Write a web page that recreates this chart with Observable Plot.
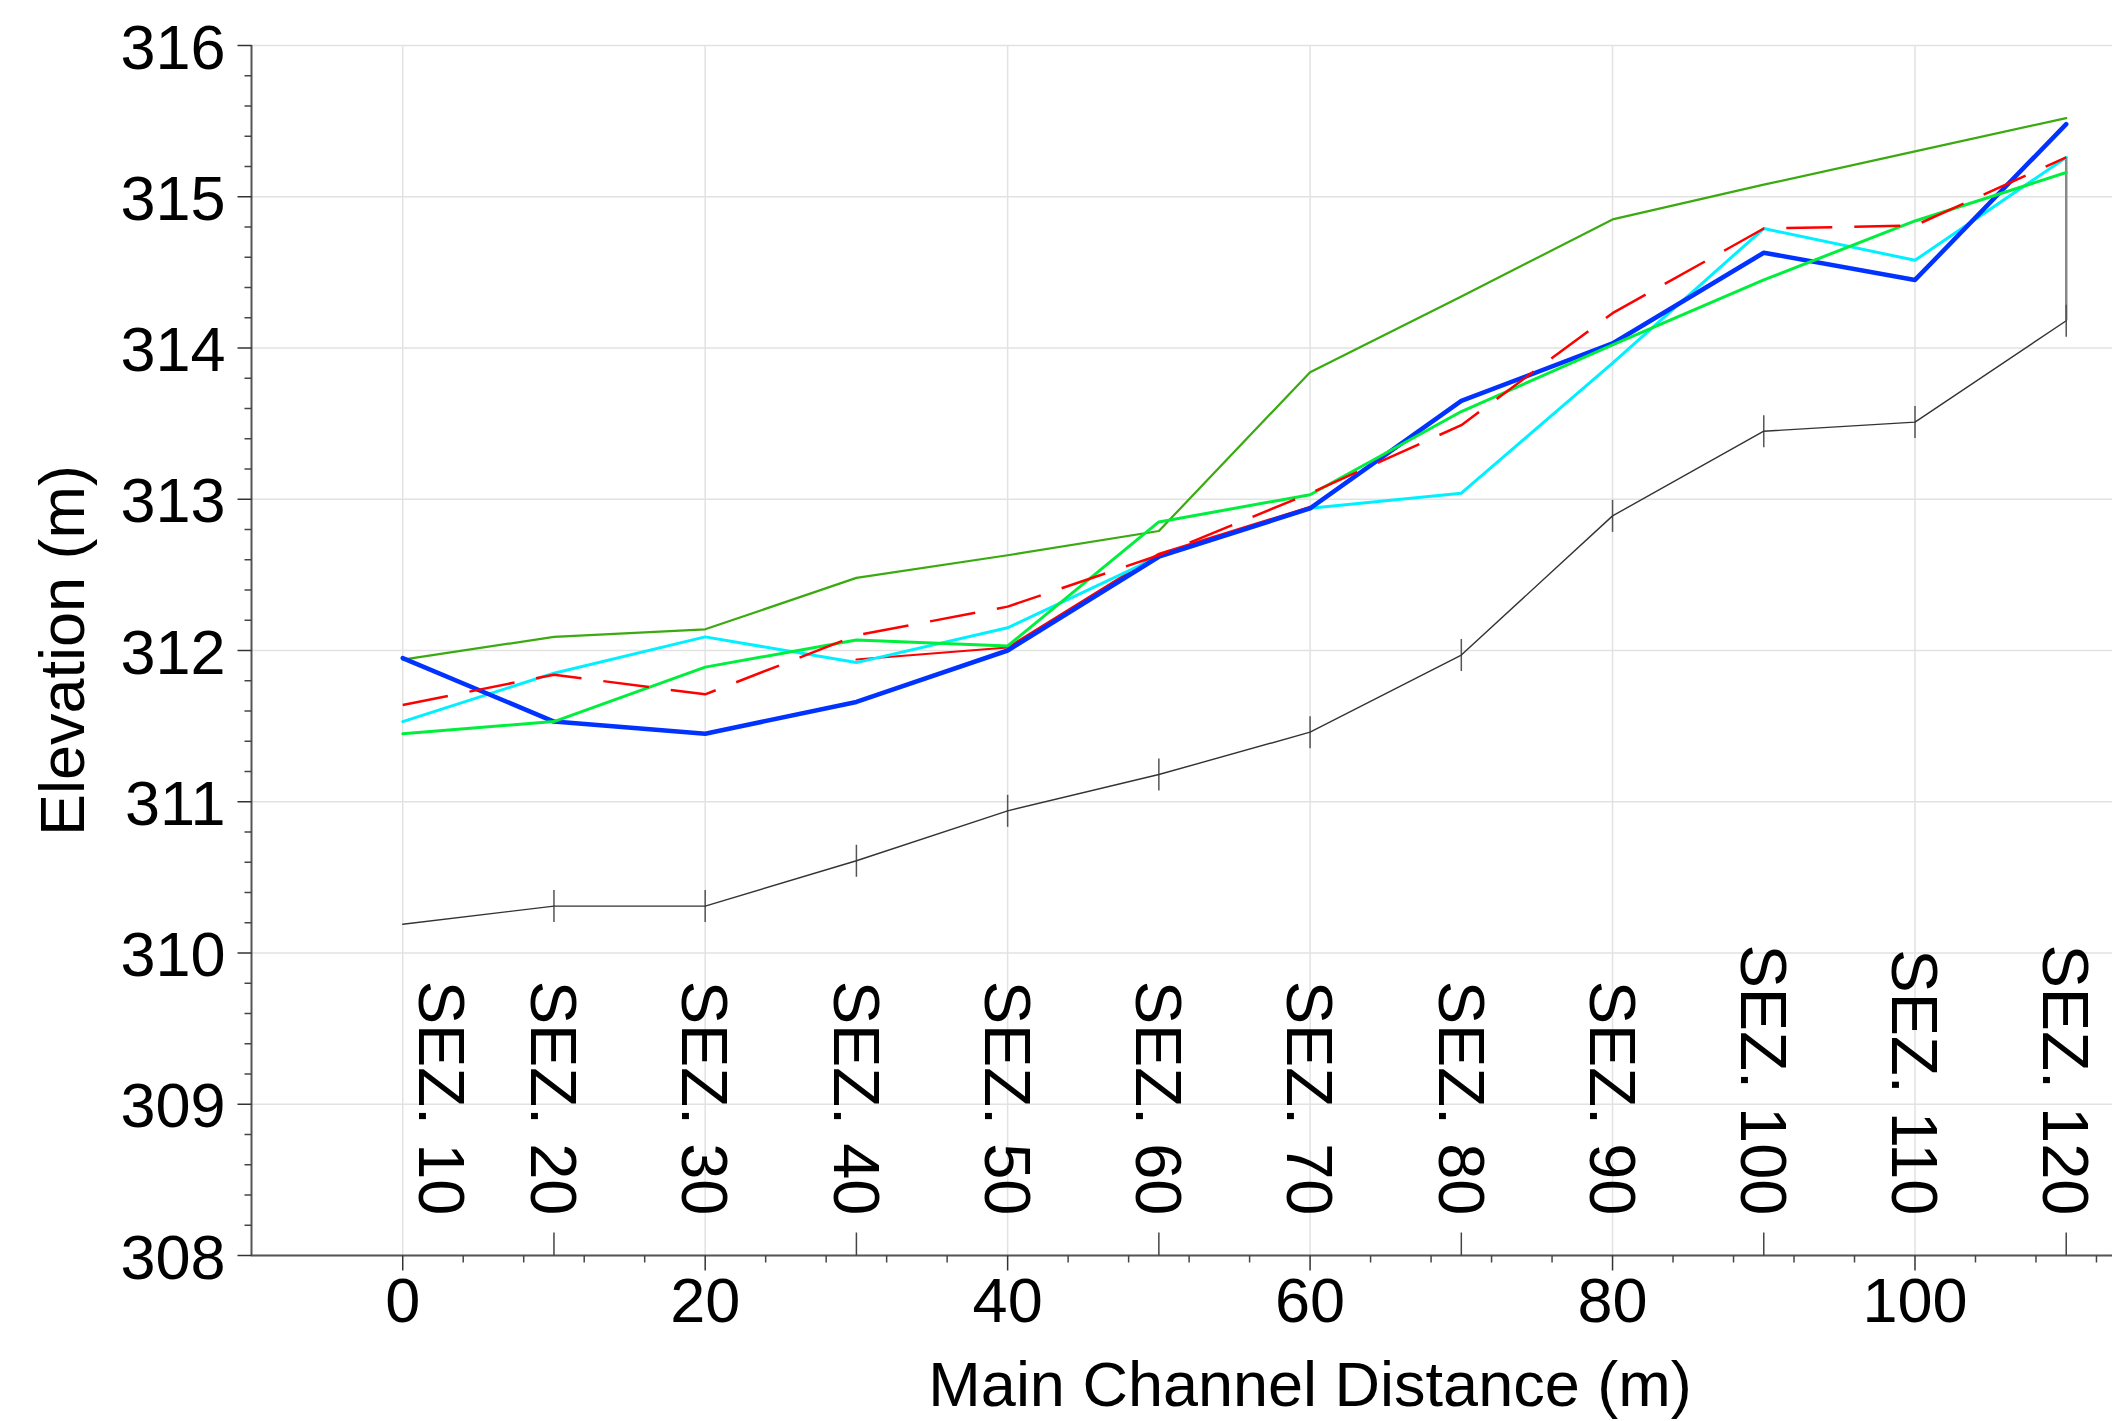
<!DOCTYPE html>
<html>
<head>
<meta charset="utf-8">
<script src="https://cdn.jsdelivr.net/npm/d3@7"></script>
<script src="https://cdn.jsdelivr.net/npm/@observablehq/plot@0.6"></script>
<style>
  html, body { margin: 0; padding: 0; background: #fff; }
  #chart { width: 2112px; height: 1421px; }
</style>
</head>
<body>
<div id="chart"></div>
<script>
// ---- data ----
const distance = [0, 10, 20, 30, 40, 50, 60, 70, 80, 90, 100, 110];
const sectionLabels = ["SEZ. 10", "SEZ. 20", "SEZ. 30", "SEZ. 40", "SEZ. 50", "SEZ. 60",
  "SEZ. 70", "SEZ. 80", "SEZ. 90", "SEZ. 100", "SEZ. 110", "SEZ. 120"];
const ground     = [310.19, 310.31, 310.31, 310.61, 310.94, 311.18, 311.46, 311.97, 312.89, 313.45, 313.51, 314.18];
const wsDarkGreen  = [311.94, 312.09, 312.14, 312.48, 312.63, 312.79, 313.84, 314.34, 314.85, 315.08, 315.30, 315.52];
const wsLightGreen = [311.45, 311.53, 311.89, 312.07, 312.03, 312.85, 313.03, 313.58, 314.02, 314.45, 314.84, 315.16];
const wsCyan       = [311.53, 311.85, 312.09, 311.92, 312.15, 312.62, 312.94, 313.04, 313.90, 314.79, 314.58, 315.26];
const wsRedDashed  = [311.64, 311.84, 311.71, 312.10, 312.29, 312.63, 313.04, 313.49, 314.23, 314.79, 314.81, 315.26];
const wsBlue       = [311.95, 311.53, 311.45, 311.66, 312.00, 312.62, 312.94, 313.65, 314.03, 314.63, 314.45, 315.48];
const critRed      = [null, null, null, 311.94, 312.02, 312.64, 312.95, null, null, null, null, null];
const lastSectionTop = 315.26;

const xDomain = [-10, 113.06];
const yDomain = [308, 316];
const xTicks = [0, 20, 40, 60, 80, 100];
const xMinorTicks = [4, 8, 12, 16, 24, 28, 32, 36, 44, 48, 52, 56, 64, 68, 72, 76, 84, 88, 92, 96, 104, 108, 112];
const sectionMarks = [10, 30, 50, 70, 90, 110];
const yTicks = [308, 309, 310, 311, 312, 313, 314, 315, 316];
const yMinorTicks = [308.2, 308.4, 308.6, 308.8, 309.2, 309.4, 309.6, 309.8, 310.2, 310.4, 310.6, 310.8,
  311.2, 311.4, 311.6, 311.8, 312.2, 312.4, 312.6, 312.8, 313.2, 313.4, 313.6, 313.8,
  314.2, 314.4, 314.6, 314.8, 315.2, 315.4, 315.6, 315.8];
const xLabel = "Main Channel Distance (m)";
const yLabel = "Elevation (m)";

// ---- table ----
const rows = distance.map((x, i) => ({
  x, label: sectionLabels[i], ground: ground[i],
  darkGreen: wsDarkGreen[i], lightGreen: wsLightGreen[i], cyan: wsCyan[i],
  red: wsRedDashed[i], blue: wsBlue[i], crit: critRed[i]
}));
const firstRow = rows.slice(0, 1);
const otherRows = rows.slice(1);
const lastRow = [rows[rows.length - 1]];

// ---- pixel-sized tick symbols ----
const groundTick = {draw(c) { c.moveTo(0, -16); c.lineTo(0, 16); }};
const upTick = {draw(c) { c.moveTo(0, 0); c.lineTo(0, -23); }};
const downMinor = {draw(c) { c.moveTo(0, 0); c.lineTo(0, 7); }};
const downMajor = {draw(c) { c.moveTo(0, 0); c.lineTo(0, 15); }};
const leftMinor = {draw(c) { c.moveTo(0, 0); c.lineTo(-7, 0); }};
const leftMajor = {draw(c) { c.moveTo(0, 0); c.lineTo(-14, 0); }};

const labelStyle = {x: "x", text: "label", frameAnchor: "bottom", rotate: 90, textAnchor: "end",
  lineAnchor: "middle", dy: -40, fontSize: 65, fill: "#000"};

const W = 2112, H = 1421;
const chart = Plot.plot({
  width: W, height: H,
  marginLeft: 251, marginRight: 0, marginTop: 45, marginBottom: 166,
  style: {fontFamily: "'Liberation Sans', Arial, sans-serif", background: "#fff", color: "#000"},
  x: {domain: xDomain, axis: null},
  y: {domain: yDomain, axis: null},
  marks: [
    Plot.gridX(xTicks, {stroke: "#e2e2e2", strokeOpacity: 1, strokeWidth: 1.5}),
    Plot.gridY(yTicks, {stroke: "#e2e2e2", strokeOpacity: 1, strokeWidth: 1.5}),
    // axis lines
    Plot.ruleX([xDomain[0]], {stroke: "#555", strokeWidth: 2}),
    Plot.ruleY([yDomain[0]], {stroke: "#555", strokeWidth: 2}),
    // y ticks + labels
    Plot.dot(yTicks, {y: d => d, frameAnchor: "left", symbol: leftMajor, stroke: "#333", fill: "none", strokeWidth: 1.5}),
    Plot.dot(yMinorTicks, {y: d => d, frameAnchor: "left", symbol: leftMinor, stroke: "#444", fill: "none", strokeWidth: 1.5}),
    Plot.text(yTicks, {y: d => d, text: d => String(d), frameAnchor: "left", textAnchor: "end", lineAnchor: "middle", dx: -26, dy: 3, fontSize: 63, fill: "#000"}),
    // x ticks + labels
    Plot.dot(xTicks, {x: d => d, frameAnchor: "bottom", symbol: downMajor, stroke: "#333", fill: "none", strokeWidth: 1.5}),
    Plot.dot(xMinorTicks, {x: d => d, frameAnchor: "bottom", symbol: downMinor, stroke: "#444", fill: "none", strokeWidth: 1.5}),
    Plot.dot(sectionMarks, {x: d => d, frameAnchor: "bottom", symbol: upTick, stroke: "#444", fill: "none", strokeWidth: 1.5}),
    Plot.text(xTicks, {x: d => d, text: d => String(d), frameAnchor: "bottom", lineAnchor: "top", dy: 22, fontSize: 63, fill: "#000"}),
    // axis titles
    Plot.text([xLabel], {text: d => d, frameAnchor: "bottom", lineAnchor: "bottom", textAnchor: "middle", dx: 128, dy: 150, fontSize: 63, fill: "#000"}),
    Plot.text([yLabel], {text: d => d, frameAnchor: "left", rotate: -90, lineAnchor: "bottom", textAnchor: "middle", dx: -168, fontSize: 63, fill: "#000"}),
    // section labels (first one is nudged right, as in the reference)
    Plot.text(firstRow, {...labelStyle, dx: 37}),
    Plot.text(otherRows, {...labelStyle, dx: -2}),
    // ground
    Plot.ruleX(lastRow, {x: "x", y1: "ground", y2: () => lastSectionTop, stroke: "#888", strokeWidth: 2.5}),
    Plot.dot(rows.filter(r => r.x > 0), {x: "x", y: "ground", symbol: groundTick, stroke: "#555", fill: "none", strokeWidth: 1.5}),
    Plot.line(rows, {x: "x", y: "ground", stroke: "#333", strokeWidth: 1.4}),
    // water surface profiles
    Plot.line(rows, {x: "x", y: "darkGreen", stroke: "#3aaa10", strokeWidth: 2.2}),
    Plot.line(rows, {x: "x", y: "crit", stroke: "#ff0000", strokeWidth: 2}),
    Plot.line(rows, {x: "x", y: "cyan", stroke: "#00f0ff", strokeWidth: 3}),
    Plot.line(rows, {x: "x", y: "blue", stroke: "#0033ff", strokeWidth: 4.5}),
    Plot.line(rows, {x: "x", y: "lightGreen", stroke: "#00ee3c", strokeWidth: 3}),
    Plot.line(rows, {x: "x", y: "red", stroke: "#ff0000", strokeWidth: 2.5, strokeDasharray: "46,22", strokeLinecap: "butt"})
  ]
});
document.getElementById("chart").appendChild(chart);
</script>
</body>
</html>
